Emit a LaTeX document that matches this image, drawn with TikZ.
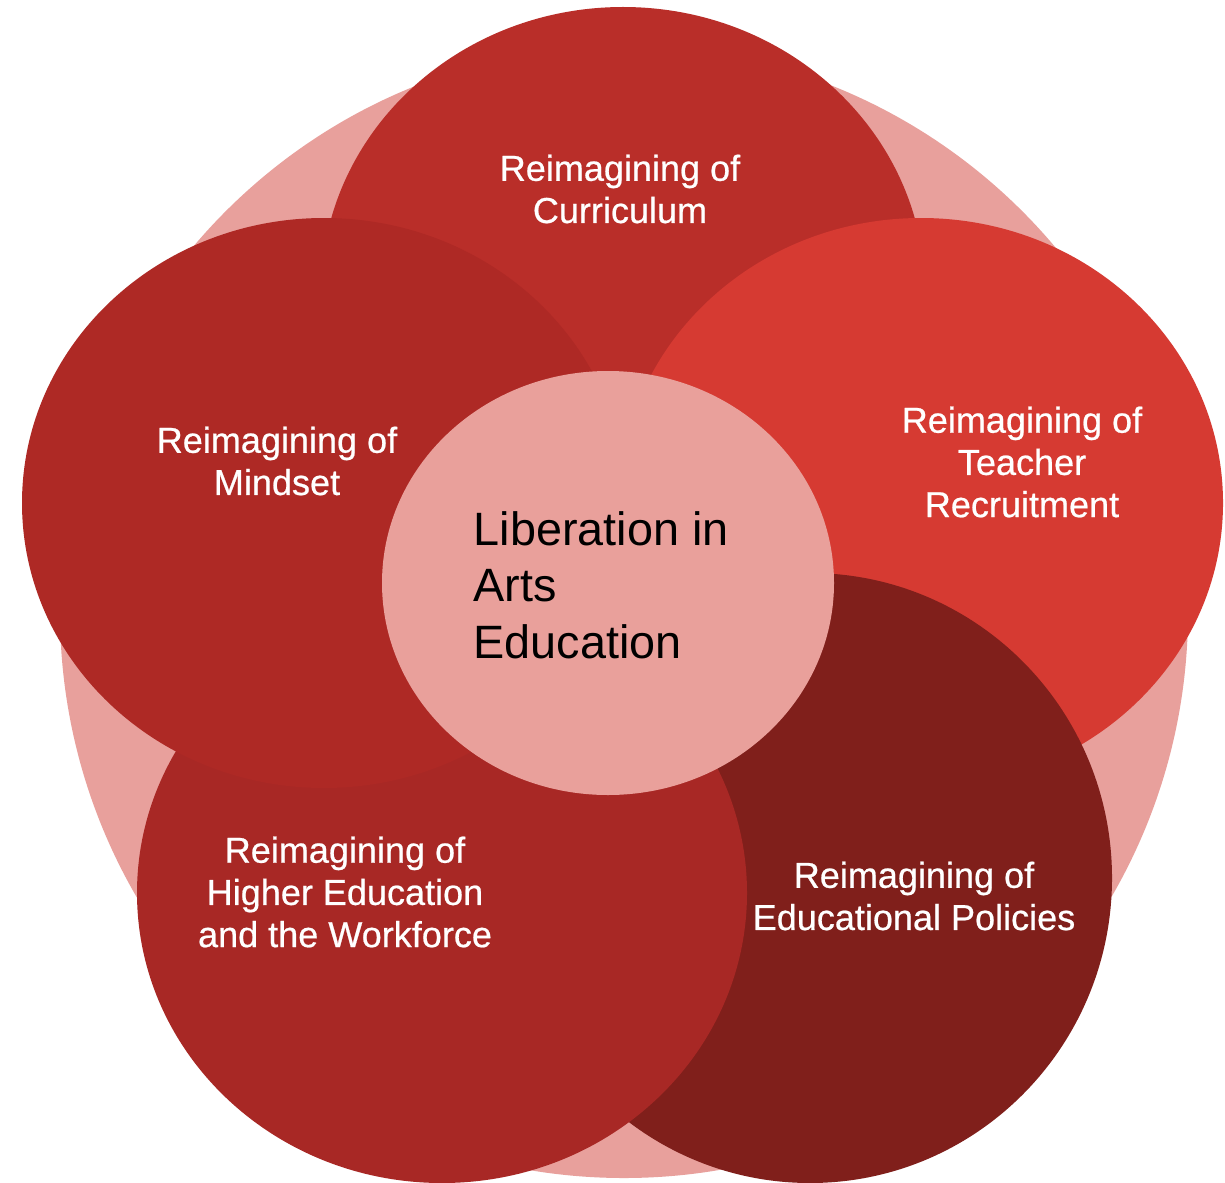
\documentclass[tikz,border=0pt]{standalone}
\usepackage{fontspec}
\setmainfont{Liberation Sans}
\definecolor{bgpink}{HTML}{E8A09C}
\definecolor{centerpink}{HTML}{E9A09B}
\definecolor{curred}{HTML}{B92E29}
\definecolor{mindred}{HTML}{AE2925}
\definecolor{teachred}{HTML}{D63A32}
\definecolor{polred}{HTML}{801F1B}
\definecolor{highred}{HTML}{A82825}
\tikzset{
    circletext/.style={text=white, align=center, inner sep=0pt, font=\fontsize{10.25}{12}\selectfont\addfontfeature{FakeBold=0.6}},
    hubtext/.style={text=black, align=left, inner sep=0pt, font=\fontsize{13.3}{16.1}\selectfont},
}
\begin{document}
\begin{tikzpicture}[x=0.01cm, y=-0.01cm]
        \useasboundingbox (0,0) rectangle (1225,1182);
        \fill[white] (0,0) rectangle (1225,1182);
        \begin{scope}
            \clip (0,0) rectangle (1225,1182);
            \fill[bgpink] (624,612) ellipse [x radius=564, y radius=566]; % fundo
            \fill[curred] (623,292) ellipse [x radius=302, y radius=285]; % curriculum
            \fill[teachred] (921,503) ellipse [x radius=302, y radius=285]; % teacher recruitment
            \fill[polred] (810,878) ellipse [x radius=302, y radius=305]; % educational policies
            \fill[highred] (442,893) ellipse [x radius=305, y radius=290]; % higher education
            \fill[mindred] (324,503) ellipse [x radius=302, y radius=285]; % mindset
            \fill[centerpink] (608,583) ellipse [x radius=226, y radius=212]; % liberation

            \node (curriculum) at (620,189) [circletext]{Reimagining of\\ Curriculum};
            \node (mindset) at (277,461) [circletext]{Reimagining of\\ Mindset};
            \node (teacher) at (1022,462) [circletext]{Reimagining of\\ Teacher\\ Recruitment};
            \node (higher) at (345,892) [circletext]{Reimagining of\\ Higher Education\\ and the Workforce};
            \node (policies) at (914,896) [circletext]{Reimagining of\\ Educational Policies};
            \node (liberation) at (473,585) [hubtext, anchor=west]{Liberation in\\ Arts\\ Education};
        \end{scope}
\end{tikzpicture}
\end{document}
